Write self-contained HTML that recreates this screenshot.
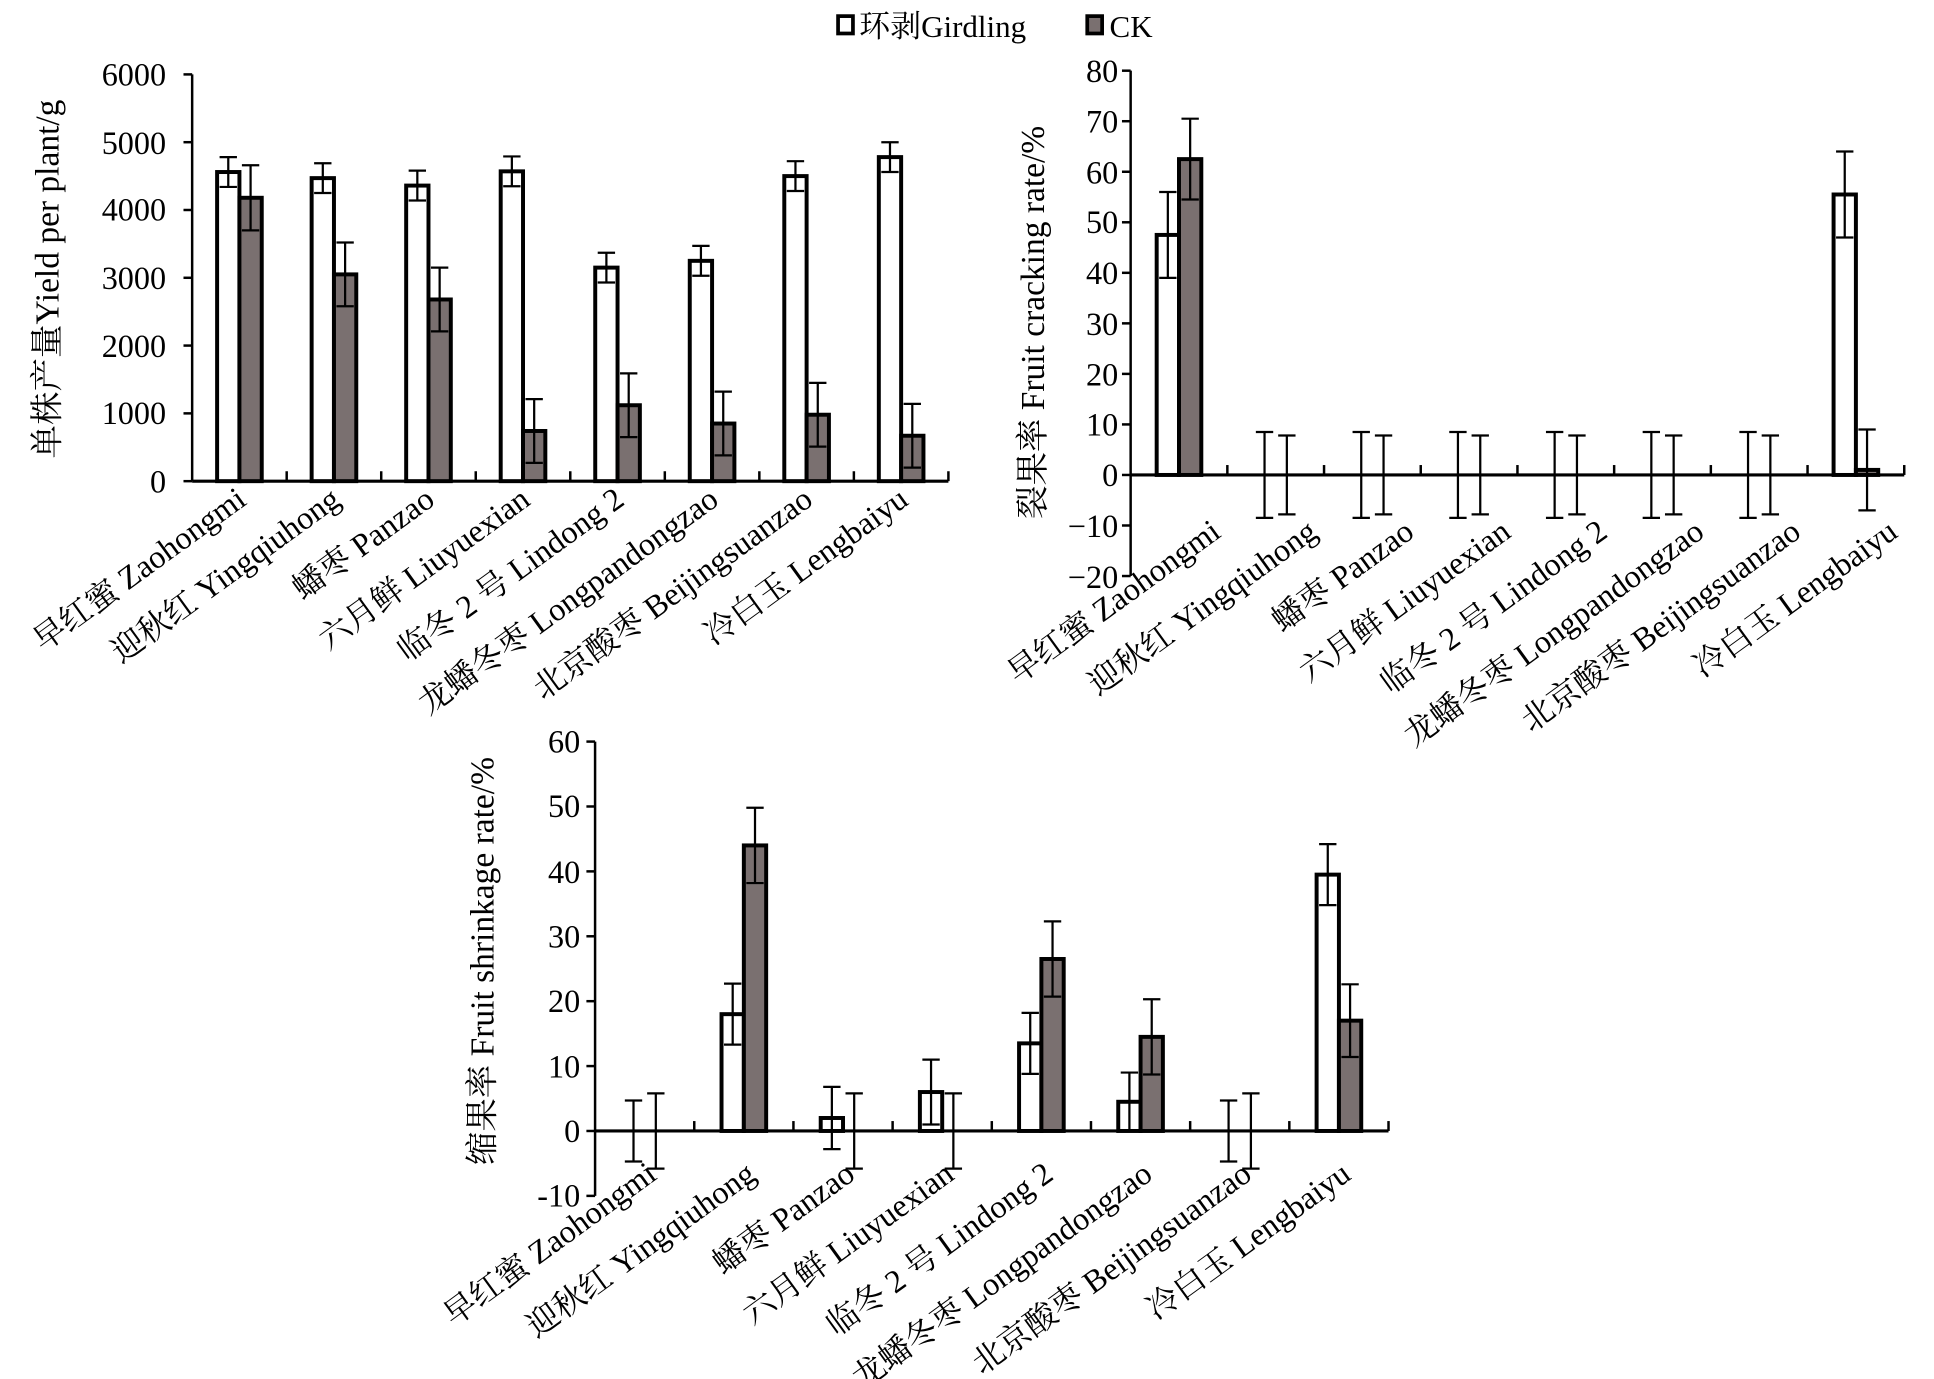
<!DOCTYPE html>
<html><head><meta charset="utf-8"><style>
html,body{margin:0;padding:0;background:#fff;}
svg{display:block;}
text{font-family:"Liberation Serif","Noto Serif CJK SC",serif;fill:#000;}
</style></head><body>
<svg id="s" xmlns="http://www.w3.org/2000/svg" width="1934" height="1379" viewBox="0 0 1560 1112" preserveAspectRatio="none">
<rect x="0" y="0" width="1560" height="1112" fill="#fff"/>
<rect x="676" y="13" width="12" height="14" fill="#fff" stroke="#000" stroke-width="3"/>
<text x="693" y="30" font-size="25">环剥Girdling</text>
<rect x="877" y="13" width="12" height="14" fill="#7a7070" stroke="#000" stroke-width="3"/>
<text x="895" y="30" font-size="25">CK</text>

<g id="g"></g>

<g font-size="26" text-anchor="end">
<text x="134" y="69">6000</text><text x="134" y="124">5000</text><text x="134" y="178">4000</text><text x="134" y="233">3000</text><text x="134" y="288">2000</text><text x="134" y="342">1000</text><text x="134" y="397">0</text>
</g>
<text transform="translate(47,225) rotate(-90)" font-size="27" text-anchor="middle">单株产量Yield per plant/g</text>
<g font-size="26" text-anchor="end">
<text transform="translate(200,406) rotate(-36)">早红蜜 Zaohongmi</text>
<text transform="translate(276,406) rotate(-36)">迎秋红 Yingqiuhong</text>
<text transform="translate(352,406) rotate(-36)">蟠枣 Panzao</text>
<text transform="translate(429,406) rotate(-36)">六月鲜 Liuyuexian</text>
<text transform="translate(505,406) rotate(-36)">临冬 2 号 Lindong 2</text>
<text transform="translate(581,406) rotate(-36)">龙蟠冬枣 Longpandongzao</text>
<text transform="translate(657,406) rotate(-36)">北京酸枣 Beijingsuanzao</text>
<text transform="translate(734,406) rotate(-36)">冷白玉 Lengbaiyu</text>
</g>

<g font-size="26" text-anchor="end">
<text x="902" y="66">80</text><text x="902" y="107">70</text><text x="902" y="148">60</text><text x="902" y="188">50</text><text x="902" y="229">40</text><text x="902" y="270">30</text><text x="902" y="311">20</text><text x="902" y="351">10</text><text x="902" y="392">0</text><text x="902" y="433">−10</text><text x="902" y="474">−20</text>
</g>
<text transform="translate(842,260) rotate(-90)" font-size="27" text-anchor="middle">裂果率 Fruit cracking rate/%</text>
<g font-size="26" text-anchor="end">
<text transform="translate(986,432) rotate(-36)">早红蜜 Zaohongmi</text>
<text transform="translate(1064,432) rotate(-36)">迎秋红 Yingqiuhong</text>
<text transform="translate(1142,432) rotate(-36)">蟠枣 Panzao</text>
<text transform="translate(1220,432) rotate(-36)">六月鲜 Liuyuexian</text>
<text transform="translate(1298,432) rotate(-36)">临冬 2 号 Lindong 2</text>
<text transform="translate(1376,432) rotate(-36)">龙蟠冬枣 Longpandongzao</text>
<text transform="translate(1454,432) rotate(-36)">北京酸枣 Beijingsuanzao</text>
<text transform="translate(1532,432) rotate(-36)">冷白玉 Lengbaiyu</text>
</g>

<g font-size="26" text-anchor="end">
<text x="468" y="607">60</text><text x="468" y="659">50</text><text x="468" y="712">40</text><text x="468" y="764">30</text><text x="468" y="816">20</text><text x="468" y="869">10</text><text x="468" y="921">0</text><text x="468" y="973">-10</text>
</g>
<text transform="translate(398,775) rotate(-90)" font-size="27" text-anchor="middle">缩果率 Fruit shrinkage rate/%</text>
<g font-size="26" text-anchor="end">
<text transform="translate(531,950) rotate(-36)">早红蜜 Zaohongmi</text>
<text transform="translate(611,950) rotate(-36)">迎秋红 Yingqiuhong</text>
<text transform="translate(691,950) rotate(-36)">蟠枣 Panzao</text>
<text transform="translate(771,950) rotate(-36)">六月鲜 Liuyuexian</text>
<text transform="translate(851,950) rotate(-36)">临冬 2 号 Lindong 2</text>
<text transform="translate(931,950) rotate(-36)">龙蟠冬枣 Longpandongzao</text>
<text transform="translate(1011,950) rotate(-36)">北京酸枣 Beijingsuanzao</text>
<text transform="translate(1091,950) rotate(-36)">冷白玉 Lengbaiyu</text>
</g>
</svg>
<script>
(function(){
var g=document.getElementById('g'),h='';
function L(x1,y1,x2,y2,w){h+='<line x1="'+x1+'" y1="'+y1+'" x2="'+x2+'" y2="'+y2+'" stroke="#000" stroke-width="'+(w||2)+'"/>';}
function chart(c){
  function Y(v){return c.y0-(v*c.k);}
  L(c.x0,Y(c.max),c.x0,Y(c.min),2);
  for(var v=c.min;v<=c.max;v+=c.step)L(c.x0-7,Y(v),c.x0,Y(v),2);
  var xe=c.x0+8*c.w;
  L(c.x0,c.y0,xe,c.y0,2.5);
  for(var i=1;i<=8;i++)L(c.x0+i*c.w,c.y0,c.x0+i*c.w,c.y0-8,2);
  for(i=0;i<8;i++){
    var cx=c.x0+(i+0.5)*c.w;
    var s=[[c.a[i],c.ae[i],cx-9,'#fff',cx-18],[c.b[i],c.be[i],cx+9,'#7a7070',cx]];
    s.forEach(function(q){
      var v=q[0],e=q[1],bx=q[2];
      if(v>0.01){var yt=Y(v),yb=c.y0;h+='<rect x="'+q[4]+'" y="'+Math.min(yt,yb)+'" width="18" height="'+Math.abs(yb-yt)+'" fill="'+q[3]+'" stroke="#000" stroke-width="3.2"/>';}
      var y1=Y(v+e),y2=Y(v-e);
      L(bx,y1,bx,y2,1.8);L(bx-7,y1,bx+7,y1,1.8);L(bx-7,y2,bx+7,y2,1.8);
    });
  }
}
chart({x0:155,w:76.25,y0:388,k:328/6000,min:0,max:6000,step:1000,
 a:[4560,4470,4360,4570,3150,3250,4500,4780],ae:[220,220,220,220,220,220,220,220],
 b:[4180,3050,2680,740,1120,850,980,670],be:[480,470,470,470,470,470,470,470]});
chart({x0:912,w:78,y0:383,k:326/80,min:-20,max:80,step:10,
 a:[47.5,0,0,0,0,0,0,55.5],ae:[8.5,8.5,8.5,8.5,8.5,8.5,8.5,8.5],
 b:[62.5,0,0,0,0,0,0,1],be:[8,7.8,7.8,7.8,7.8,7.8,7.8,8]});
chart({x0:480,w:80,y0:912,k:314/60,min:-10,max:60,step:10,
 a:[0,18,2,6,13.5,4.5,0,39.5],ae:[4.7,4.7,4.8,5,4.7,4.5,4.7,4.7],
 b:[0,44,0,0,26.5,14.5,0,17],be:[5.8,5.8,5.8,5.8,5.8,5.8,5.8,5.6]});
g.innerHTML=h;
})();
</script>
</body></html>
